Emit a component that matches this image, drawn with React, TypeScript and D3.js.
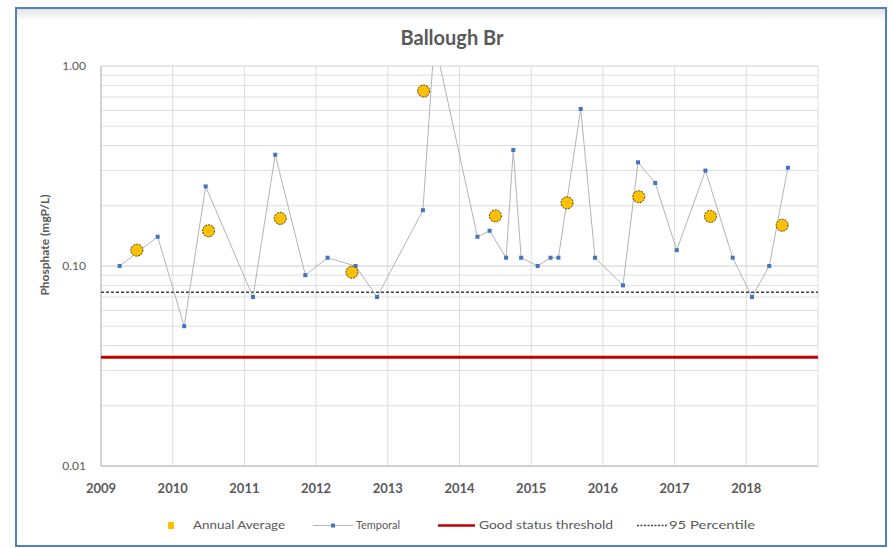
import React from "react";
import * as d3 from "d3";

const title = "Ballough Br";
const yTitle = "Phosphate (mgP/L)";
const yTickValues = [0.01, 0.1, 1];
const yTickLabels = ["0.01", "0.10", "1.00"];
const xTickYears = [2009, 2010, 2011, 2012, 2013, 2014, 2015, 2016, 2017, 2018];

const temporalDates = [
  2009.26, 2009.79, 2010.16, 2010.46, 2011.12, 2011.43, 2011.85, 2012.16, 2012.55, 2012.85,
  2013.49, 2013.65, 2014.25, 2014.42, 2014.65, 2014.75, 2014.86, 2015.09, 2015.27, 2015.38,
  2015.69, 2015.89, 2016.28, 2016.49, 2016.73, 2017.03, 2017.43, 2017.81, 2018.08, 2018.32,
  2018.58,
];
const temporalValues = [
  0.1, 0.14, 0.05, 0.25, 0.07, 0.36, 0.09, 0.11, 0.1, 0.07,
  0.19, 1.35, 0.14, 0.15, 0.11, 0.38, 0.11, 0.1, 0.11, 0.11,
  0.61, 0.11, 0.08, 0.33, 0.26, 0.12, 0.3, 0.11, 0.07, 0.1,
  0.31,
];
const annualYears = [2009.5, 2010.5, 2011.5, 2012.5, 2013.5, 2014.5, 2015.5, 2016.5, 2017.5, 2018.5];
const annualValues = [0.12, 0.15, 0.173, 0.093, 0.75, 0.178, 0.207, 0.222, 0.177, 0.16];
const goodStatusThreshold = 0.035;
const percentile95 = 0.074;
const legendLabels = ["Annual Average", "Temporal", "Good status threshold", "95 Percentile"];

const W = 891;
const H = 548;
const plot = { left: 101, right: 818, top: 66, bottom: 466 };
const font = "Lato, 'Open Sans', sans-serif";
const textGray = "#595959";

export default function App() {
  const x = d3.scaleLinear().domain([2009, 2019]).range([plot.left, plot.right]);
  const y = d3.scaleLog().domain([0.01, 1]).range([plot.bottom, plot.top]);

  const minorTicks: number[] = [];
  [0.01, 0.1].forEach((dec) => {
    for (let k = 2; k <= 9; k++) minorTicks.push(dec * k);
  });

  const line = d3
    .line<number>()
    .x((_, i) => x(temporalDates[i]))
    .y((v) => y(v));

  const xGrid = d3.range(2009, 2020);

  return (
    <svg
      width={W}
      height={H}
      style={{ position: "absolute", left: 0, top: 0, background: "#fff" }}
      fontFamily={font}
    >
      <defs>
        <linearGradient id="shade" x1="0" y1="0" x2="0" y2="1">
          <stop offset="0" stopColor="#e4e4e4" />
          <stop offset="1" stopColor="#ffffff" />
        </linearGradient>
        <clipPath id="plotClip">
          <rect x={plot.left} y={plot.top} width={plot.right - plot.left} height={plot.bottom - plot.top} />
        </clipPath>
      </defs>
      <rect x={0} y={0} width={W} height={H} fill="#fff" />
      <rect x={17} y={9} width={868} height={12} fill="url(#shade)" />
      <rect x={16} y={8} width={870} height={538} fill="none" stroke="#4f81bd" strokeWidth={2} />

      <text x={452} y={45} textAnchor="middle" fontSize={20} fontWeight="bold" fill={textGray}>
        {title}
      </text>

      {/* minor gridlines */}
      {minorTicks.map((t) => (
        <line key={"m" + t} x1={plot.left} x2={plot.right} y1={y(t)} y2={y(t)} stroke="#dedede" strokeWidth={1} />
      ))}
      {/* vertical gridlines */}
      {xGrid.map((yr) => (
        <line key={"v" + yr} x1={x(yr)} x2={x(yr)} y1={plot.top} y2={plot.bottom} stroke="#dcdcdc" strokeWidth={1} />
      ))}
      {/* major gridlines */}
      {yTickValues.map((t) => (
        <line key={"M" + t} x1={plot.left} x2={plot.right} y1={y(t)} y2={y(t)} stroke="#d0d0d0" strokeWidth={1} />
      ))}
      {/* axes */}
      <line x1={plot.left} x2={plot.left} y1={plot.top} y2={plot.bottom} stroke="#c8c8c8" strokeWidth={1.5} />
      <line x1={plot.left} x2={plot.right} y1={plot.bottom} y2={plot.bottom} stroke="#c8c8c8" strokeWidth={1.5} />

      {/* y tick labels */}
      {yTickValues.map((t, i) => (
        <text key={"yl" + t} x={86} y={y(t) + 4} textAnchor="end" fontSize={12} fill={textGray}>
          {yTickLabels[i]}
        </text>
      ))}
      {/* x tick labels */}
      {xTickYears.map((yr) => (
        <text key={"xl" + yr} x={x(yr)} y={493} textAnchor="middle" fontSize={13} fontWeight="bold" fill={textGray}>
          {yr}
        </text>
      ))}
      <text
        transform={`translate(49,${245}) rotate(-90)`}
        textAnchor="middle"
        fontSize={12}
        fontWeight="bold"
        fill={textGray}
      >
        {yTitle}
      </text>

      {/* threshold lines */}
      <line
        x1={plot.left}
        x2={plot.right}
        y1={y(percentile95)}
        y2={y(percentile95)}
        stroke="#404040"
        strokeWidth={1.5}
        strokeDasharray="3,2"
      />
      <line
        x1={plot.left}
        x2={plot.right}
        y1={y(goodStatusThreshold)}
        y2={y(goodStatusThreshold)}
        stroke="#c00000"
        strokeWidth={3}
      />

      {/* temporal */}
      <g clipPath="url(#plotClip)">
        <path d={line(temporalValues) || ""} fill="none" stroke="#b4b4b4" strokeWidth={1} />
        {temporalValues.map((v, i) => (
          <rect
            key={"t" + i}
            x={x(temporalDates[i]) - 2}
            y={y(v) - 2}
            width={4}
            height={4}
            fill="#4472c4"
          />
        ))}
      </g>

      {/* annual average */}
      {annualValues.map((v, i) => (
        <circle
          key={"a" + i}
          cx={x(annualYears[i])}
          cy={y(v)}
          r={6}
          fill="#ffc000"
          stroke="#4d3f00"
          strokeWidth={1}
          strokeDasharray="2,1"
        />
      ))}

      {/* legend */}
      <g fontSize={12} fill={textGray}>
        <rect x={168} y={522} width={6} height={7} fill="#ffc000" />
        <text x={193} y={529} textLength={92} lengthAdjust="spacingAndGlyphs">
          {legendLabels[0]}
        </text>
        <line x1={313} x2={353} y1={525.5} y2={525.5} stroke="#b4b4b4" strokeWidth={1} />
        <rect x={331} y={523.5} width={4} height={4} fill="#4472c4" />
        <text x={356} y={529} textLength={44} lengthAdjust="spacingAndGlyphs">
          {legendLabels[1]}
        </text>
        <line x1={438} x2={475} y1={525.5} y2={525.5} stroke="#c00000" strokeWidth={2.5} />
        <text x={479} y={529} textLength={134} lengthAdjust="spacingAndGlyphs">
          {legendLabels[2]}
        </text>
        <line x1={637} x2={667} y1={525.5} y2={525.5} stroke="#404040" strokeWidth={1.5} strokeDasharray="2,1.5" />
        <text x={669} y={529} textLength={86} lengthAdjust="spacingAndGlyphs">
          {legendLabels[3]}
        </text>
      </g>
    </svg>
  );
}
